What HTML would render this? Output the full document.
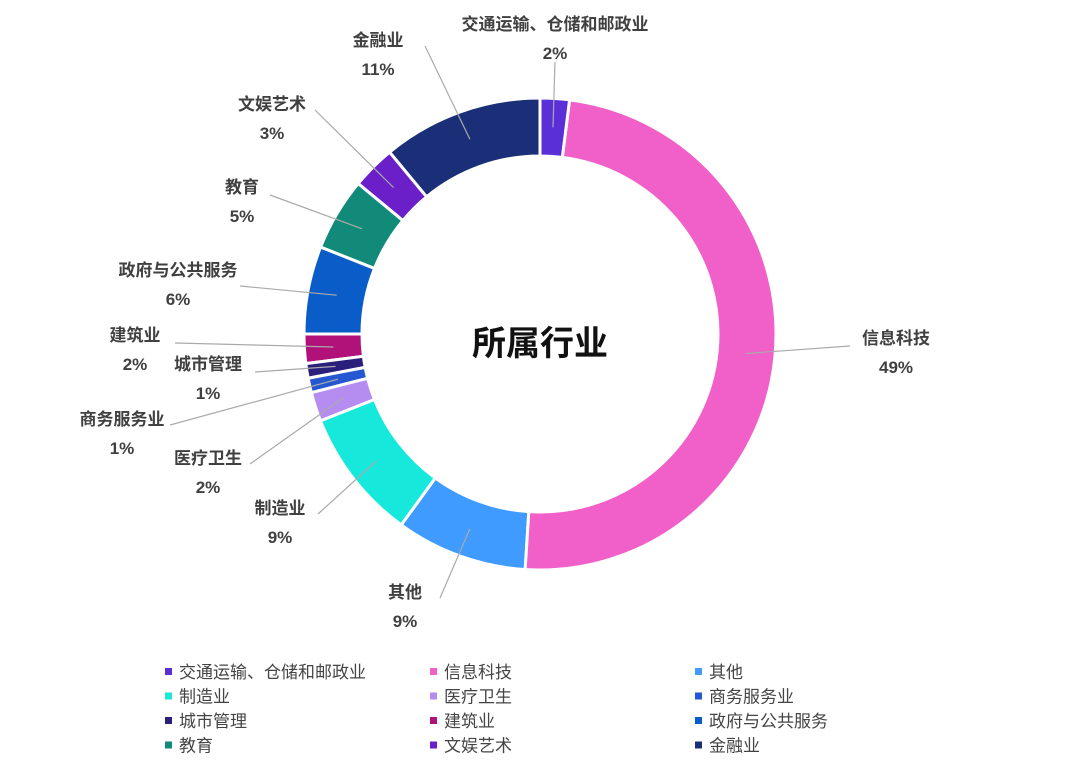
<!DOCTYPE html>
<html><head><meta charset="utf-8">
<style>
body{margin:0;background:#fff;width:1080px;height:770px;overflow:hidden;font-family:"Liberation Sans","Noto Sans CJK SC",sans-serif;}
svg text{font-family:"Liberation Sans","Noto Sans CJK SC",sans-serif;}
</style></head>
<body>
<svg id="chart" width="1080" height="770">
<text x="540" y="355" text-anchor="middle" font-size="34" font-weight="bold" fill="#111">所属行业</text>
</svg>
<script>
const categories=["交通运输、仓储和邮政业","信息科技","其他","制造业","医疗卫生","商务服务业","城市管理","建筑业","政府与公共服务","教育","文娱艺术","金融业"];
const values=[2,49,9,9,2,1,1,2,6,5,3,11];
const valueLabels=["2%","49%","9%","9%","2%","1%","1%","2%","6%","5%","3%","11%"];
const colors=["#5a2fd8","#f060c8","#3f9bff","#16e8dc","#b58cf0","#2457d0","#2a1f7a","#b0127a","#0a5cc8","#128a7a","#6a1fc8","#1b2f78"];
// label layout (pixel positions – layout, not data)
const labelPos=[[555,30],[896,344],[405,598],[280,514],[208,464],[122,425],[208,370],[135,341],[178,276],[242,193],[272,110],[378,46]];
const elbow=[[555,62],[850,346],[440,598],[318,514],[250,464],[170,425],[255,372],[175,343],[240,286],[270,195],[315,110],[425,46]];
const svg=document.getElementById('chart');
const NS='http://www.w3.org/2000/svg';
const cx=540,cy=334,R=236,r=178;
const total=values.reduce((a,b)=>a+b,0);
function pt(a,rad){return [cx+rad*Math.sin(a),cy-rad*Math.cos(a)];}
let acc=0;
values.forEach((v,i)=>{
  const a0=acc/total*2*Math.PI; acc+=v; const a1=acc/total*2*Math.PI;
  const large=(a1-a0)>Math.PI?1:0;
  const p0=pt(a0,R),p1=pt(a1,R),q1=pt(a1,r),q0=pt(a0,r);
  const p=document.createElementNS(NS,'path');
  p.setAttribute('d',`M${p0[0]},${p0[1]} A${R},${R} 0 ${large} 1 ${p1[0]},${p1[1]} L${q1[0]},${q1[1]} A${r},${r} 0 ${large} 0 ${q0[0]},${q0[1]} Z`);
  p.setAttribute('fill',colors[i]);p.setAttribute('stroke','#fff');p.setAttribute('stroke-width','3');
  
  
  svg.insertBefore(p,svg.firstChild);
  const am=(a0+a1)/2; const m=pt(am,(R+r)/2);
  const e=elbow[i];
  const l=document.createElementNS(NS,'polyline');
  l.setAttribute('points',`${m[0]},${m[1]} ${e[0]},${e[1]}`);
  l.setAttribute('fill','none');l.setAttribute('stroke','#aaa');l.setAttribute('stroke-width','1.2');
  
  
  svg.appendChild(l);
  const lp=labelPos[i];
  const t1=document.createElementNS(NS,'text');
  t1.setAttribute('x',lp[0]);t1.setAttribute('y',lp[1]);t1.setAttribute('text-anchor','middle');
  t1.setAttribute('font-size','17');t1.setAttribute('font-weight','bold');t1.setAttribute('fill','#404040');
  t1.textContent=categories[i];
  
  
  svg.appendChild(t1);
  const t2=document.createElementNS(NS,'text');
  t2.setAttribute('x',lp[0]);t2.setAttribute('y',lp[1]+29);t2.setAttribute('text-anchor','middle');
  t2.setAttribute('font-size','17');t2.setAttribute('font-weight','bold');t2.setAttribute('fill','#404040');
  t2.textContent=valueLabels[i];
  
  
  svg.appendChild(t2);
});
const colX=[165,430,695];
categories.forEach((c,i)=>{
  const x=colX[i%3],y=672+Math.floor(i/3)*24.5;
  const g=document.createElementNS(NS,'g');
  
  
  const s=document.createElementNS(NS,'rect');
  s.setAttribute('x',x);s.setAttribute('y',y-4);s.setAttribute('width',7);s.setAttribute('height',7);s.setAttribute('fill',colors[i]);
  
  
  const t=document.createElementNS(NS,'text');
  t.setAttribute('x',x+14);t.setAttribute('y',y+6);t.setAttribute('font-size','17');t.setAttribute('fill','#444');
  t.textContent=c;
  
  
  g.appendChild(s);g.appendChild(t);svg.appendChild(g);
});
</script>
</body></html>
